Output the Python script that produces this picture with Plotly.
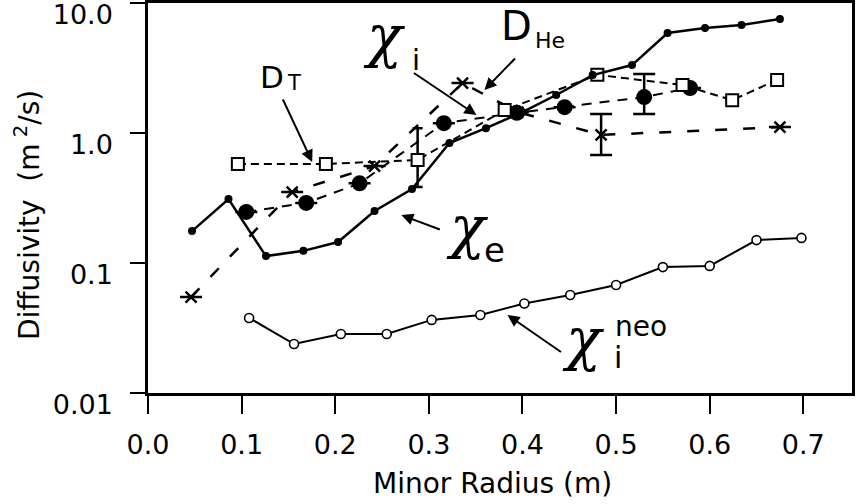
import plotly.graph_objects as go

# Minor radius (m) and diffusivities (m^2/s)
chi_e_r = [0.047, 0.086, 0.126, 0.166, 0.203, 0.242, 0.282, 0.322, 0.361, 0.400,
           0.436, 0.475, 0.517, 0.555, 0.595, 0.634, 0.675]
chi_e = [0.176, 0.31, 0.113, 0.124, 0.145, 0.251, 0.371, 0.838, 1.09, 1.45,
         1.96, 2.79, 3.33, 5.88, 6.42, 6.77, 7.53]

chi_i_r = [0.105, 0.169, 0.226, 0.316, 0.394, 0.445, 0.530, 0.579]
chi_i = [0.247, 0.29, 0.41, 1.19, 1.43, 1.58, 1.89, 2.22]
chi_i_err_hi = [0, 0, 0, 0, 0, 0, 2.84, 0]
chi_i_err_lo = [0, 0, 0, 0, 0, 0, 1.40, 0]

d_t_r = [0.096, 0.190, 0.288, 0.381, 0.480, 0.571, 0.624, 0.672]
d_t = [0.578, 0.578, 0.62, 1.50, 2.8, 2.34, 1.79, 2.56]
d_t_err_hi = [0, 0, 1.09, 0, 0, 0, 0, 0]
d_t_err_lo = [0, 0, 0.384, 0, 0, 0, 0, 0]

d_he_r = [0.046, 0.154, 0.242, 0.336, 0.395, 0.484, 0.675]
d_he = [0.0547, 0.351, 0.557, 2.42, 1.45, 0.966, 1.11]
d_he_err_hi = [0, 0, 0, 0, 0, 1.40, 0]
d_he_err_lo = [0, 0, 0, 0, 0, 0.678, 0]

chi_neo_r = [0.108, 0.156, 0.206, 0.255, 0.303, 0.355, 0.402, 0.451, 0.500,
             0.550, 0.600, 0.650, 0.698]
chi_neo = [0.0378, 0.0238, 0.0284, 0.0284, 0.0365, 0.0398, 0.0488, 0.0567,
           0.0677, 0.093, 0.095, 0.150, 0.156]

x_ticks = [0.0, 0.1, 0.2, 0.3, 0.4, 0.5, 0.6, 0.7]
x_tick_text = ["0.0", "0.1", "0.2", "0.3", "0.4", "0.5", "0.6", "0.7"]
y_ticks = [0.01, 0.1, 1.0, 10.0]
y_tick_text = ["0.01", "0.1", "1.0", "10.0"]

SANS = "DejaVu Sans"
SERIF = "DejaVu Serif"
INK = "black"


def err(vals, hi, lo):
    plus = [h - v if h else 0 for v, h in zip(vals, hi)]
    minus = [v - l if l else 0 for v, l in zip(vals, lo)]
    return plus, minus


fig = go.Figure()

# neoclassical ion diffusivity
fig.add_trace(go.Scatter(
    x=chi_neo_r, y=chi_neo, mode="lines+markers",
    line=dict(color=INK, width=2),
    marker=dict(symbol="circle", size=9, color="white",
                line=dict(color=INK, width=1.6)),
))

# helium diffusivity
p, m = err(d_he, d_he_err_hi, d_he_err_lo)
fig.add_trace(go.Scatter(
    x=d_he_r, y=d_he, mode="lines+markers",
    line=dict(color=INK, width=2.5, dash="12px,16px"),
    marker=dict(symbol="x-thin", size=11, line=dict(color=INK, width=2.5)),
    error_y=dict(type="data", symmetric=False, array=p, arrayminus=m,
                 color=INK, thickness=2.5, width=11),
))

# ion thermal diffusivity
p, m = err(chi_i, chi_i_err_hi, chi_i_err_lo)
fig.add_trace(go.Scatter(
    x=chi_i_r, y=chi_i, mode="lines+markers",
    line=dict(color=INK, width=2, dash="10px,8px"),
    marker=dict(symbol="circle", size=16, color=INK),
    error_y=dict(type="data", symmetric=False, array=p, arrayminus=m,
                 color=INK, thickness=2.5, width=11),
))

# tritium diffusivity
p, m = err(d_t, d_t_err_hi, d_t_err_lo)
fig.add_trace(go.Scatter(
    x=d_t_r, y=d_t, mode="lines+markers",
    line=dict(color=INK, width=2, dash="8px,5px"),
    marker=dict(symbol="square", size=12, color="white",
                line=dict(color=INK, width=2)),
    error_y=dict(type="data", symmetric=False, array=p, arrayminus=m,
                 color=INK, thickness=2.5, width=5),
))

# electron thermal diffusivity
fig.add_trace(go.Scatter(
    x=chi_e_r, y=chi_e, mode="lines+markers",
    line=dict(color=INK, width=2.5),
    marker=dict(symbol="circle", size=8, color=INK),
))

annotations = []


def label(x, logy, text, size, family=SANS, lift=0):
    annotations.append(dict(
        x=x, y=logy, xref="x", yref="y", text=text, showarrow=False,
        xanchor="center", yanchor="middle", yshift=lift,
        font=dict(family=family, size=size, color=INK),
    ))


def arrow(x, logy, ax, ay):
    annotations.append(dict(
        x=x, y=logy, xref="x", yref="y", text="", showarrow=True,
        ax=ax, ay=ay, arrowhead=2, arrowsize=1.2, arrowwidth=2,
        arrowcolor=INK, standoff=0, startstandoff=0,
    ))


CHI = "<i>χ</i>"

# D_T
label(0.1326, 0.419, "D", 31, lift=2)
label(0.1561, 0.388, "T", 21)
arrow(0.1754, -0.223, -30, -64)

# chi_i
label(0.2524, 0.650, CHI, 58, SERIF, lift=13)
label(0.2861, 0.554, "i", 29, lift=1)
arrow(0.3508, 0.1385, -64, -43)

# D_He
label(0.394, 0.792, "D", 40, lift=4)
label(0.4289, 0.715, "He", 22)
arrow(0.3594, 0.3308, 32, -33)

# chi_e
label(0.3406, -0.823, CHI, 58, SERIF, lift=13)
label(0.3700, -0.923, "e", 34, lift=3)
arrow(0.2706, -0.631, 40, 15)

# chi_i neoclassical
label(0.4647, -1.677, CHI, 58, SERIF, lift=12)
label(0.5262, -1.485, "neo", 28)
label(0.5021, -1.727, "i", 30)
arrow(0.384, -1.40, 55, 38)

# axis titles
annotations.append(dict(
    x=-0.172, y=0.456, xref="paper", yref="paper", showarrow=False,
    text="Diffusivity\u00a0\u00a0(m<sup>\u00a02</sup>/s)", textangle=-90,
    xanchor="center", yanchor="middle",
    font=dict(family=SANS, size=28, color=INK),
))
annotations.append(dict(
    x=0.489, y=-0.231, xref="paper", yref="paper", showarrow=False,
    text="Minor Radius (m)", xanchor="center", yanchor="middle",
    font=dict(family=SANS, size=28, color=INK),
))

fig.update_layout(
    width=863, height=504,
    margin=dict(l=148, r=11, t=3, b=111, autoexpand=False),
    paper_bgcolor="white", plot_bgcolor="white",
    showlegend=False,
    font=dict(family=SANS, color=INK),
    annotations=annotations,
    xaxis=dict(
        range=[0, 0.752], tickvals=x_ticks, ticktext=x_tick_text,
        ticks="outside", ticklen=18, tickwidth=2, tickcolor=INK,
        showline=True, linewidth=2.5, linecolor=INK, mirror=True,
        showgrid=False, zeroline=False, automargin=False,
        tickfont=dict(family=SANS, size=27, color=INK),
        ticklabelstandoff=8,
    ),
    yaxis=dict(
        type="log", range=[-2, 1], tickvals=y_ticks, ticktext=y_tick_text,
        ticks="outside", ticklen=15, tickwidth=2, tickcolor=INK,
        showline=True, linewidth=2.5, linecolor=INK, mirror=True,
        showgrid=False, zeroline=False, automargin=False,
        tickfont=dict(family=SANS, size=27, color=INK),
        ticklabelstandoff=12, ticklabelshift=12, ticklabeloverflow="allow",
    ),
)

fig.write_html("out.html")
